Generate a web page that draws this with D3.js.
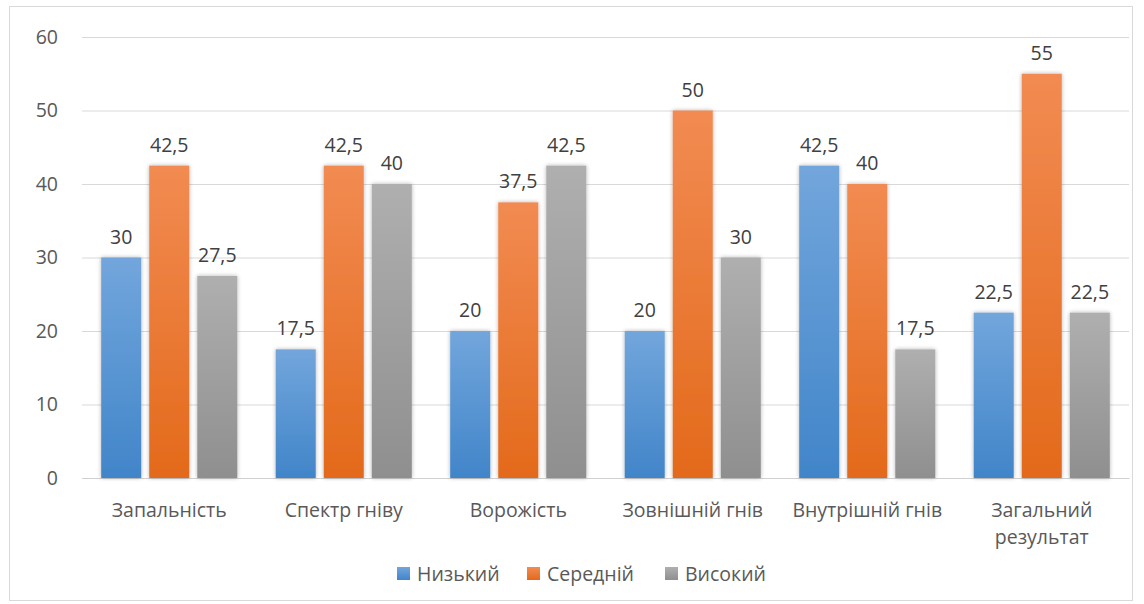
<!DOCTYPE html>
<html>
<head>
<meta charset="utf-8">
<script src="https://cdn.jsdelivr.net/npm/d3@7"></script>
<style>
  body { margin: 0; background: #fff; }
  text { font-family: "Open Sans", "Noto Sans", sans-serif; }
</style>
</head>
<body>
<div id="chart"></div>
<script>
// categories and series
const categories = ['Запальність', 'Спектр гніву', 'Ворожість', 'Зовнішній гнів', 'Внутрішній гнів', 'Загальний результат']
const categoryLines = [['Запальність'], ['Спектр гніву'], ['Ворожість'], ['Зовнішній гнів'], ['Внутрішній гнів'], ['Загальний', 'результат']]
const seriesNames = ['Низький', 'Середній', 'Високий']
const low = [30, 17.5, 20, 20, 42.5, 22.5]
const mid = [42.5, 42.5, 37.5, 50, 40, 55]
const high = [27.5, 40, 42.5, 30, 17.5, 22.5]
const yTicks = [0, 10, 20, 30, 40, 50, 60]

const width = 1144, height = 604
const margin = {top: 37, right: 15, bottom: 126, left: 82}
const innerWidth = width - margin.left - margin.right
const innerHeight = height - margin.top - margin.bottom
const fontSize = '19.5px'

const svg = d3.select('#chart').append('svg')
  .attr('width', width)
  .attr('height', height)

// gradients for bar fills
const colors = {
  'Низький': ['#72a6dc', '#4185c9'],
  'Середній': ['#f28b52', '#e36a1b'],
  'Високий': ['#afafaf', '#8f8f8f']
}
const defs = svg.append('defs')
seriesNames.forEach((s, i) => {
  const grad = defs.append('linearGradient')
    .attr('id', 'grad' + i)
    .attr('x1', 0).attr('y1', 0).attr('x2', 0).attr('y2', 1)
  grad.append('stop').attr('offset', '0%').attr('stop-color', colors[s][0])
  grad.append('stop').attr('offset', '100%').attr('stop-color', colors[s][1])
})
const shadow = defs.append('filter').attr('id', 'shadow')
  .attr('x', '-30%').attr('y', '-10%').attr('width', '160%').attr('height', '120%')
shadow.append('feGaussianBlur').attr('in', 'SourceAlpha').attr('stdDeviation', 2)
shadow.append('feComponentTransfer').append('feFuncA').attr('type', 'linear').attr('slope', 0.3)
const merge = shadow.append('feMerge')
merge.append('feMergeNode')
merge.append('feMergeNode').attr('in', 'SourceGraphic')

// chart border
svg.append('rect')
  .attr('x', 9.5).attr('y', 6.5)
  .attr('width', 1123).attr('height', 594)
  .attr('fill', 'none')
  .attr('stroke', '#d9d9d9')

const g = svg.append('g')
  .attr('transform', `translate(${margin.left}, ${margin.top})`)

// scales
const yScale = d3.scaleLinear().domain([0, 60]).range([innerHeight, 0])
const x0 = d3.scaleBand().domain(categories).range([0, innerWidth])
  .paddingInner(0.22).paddingOuter(0.11)
const x1 = d3.scaleBand().domain(seriesNames).range([0, x0.bandwidth()])
  .paddingInner(1 / 6)

// gridlines
const yAxis = d3.axisLeft(yScale)
  .tickValues(yTicks)
  .tickSize(-innerWidth)
  .tickFormat('')
const yg = g.append('g').call(yAxis)
yg.select('.domain').remove()
yg.selectAll('line').attr('stroke', '#d9d9d9')
yg.selectAll('text').remove()

// y labels
g.selectAll('.ylbl').data(yTicks).join('text')
  .attr('class', 'ylbl')
  .attr('x', -24)
  .attr('y', d => yScale(d))
  .attr('dy', '0.35em')
  .attr('text-anchor', 'end')
  .attr('fill', '#595959')
  .style('font-size', fontSize)
  .text(d => d)

// x baseline + labels
const xAxis = d3.axisBottom(x0).tickSize(0).tickFormat('')
const xg = g.append('g')
  .attr('transform', `translate(0, ${innerHeight})`)
  .call(xAxis)
xg.select('.domain').attr('stroke', '#d0d0d0').attr('stroke-width', 1.2)
xg.selectAll('text').remove()
xg.selectAll('.tick').each(function(d, i) {
  const t = d3.select(this).append('text')
    .attr('fill', '#595959')
    .attr('text-anchor', 'middle')
    .style('font-size', fontSize)
  categoryLines[i].forEach((line, j) => {
    t.append('tspan').attr('x', 0).attr('y', 39 + j * 27).text(line)
  })
})

// bars
const data = categories.map((c, i) => ({
  key: c,
  values: [
    {series: 'Низький', value: low[i]},
    {series: 'Середній', value: mid[i]},
    {series: 'Високий', value: high[i]}
  ]
}))
const fmt = v => String(v).replace('.', ',')

const groups = g.selectAll('.group').data(data).join('g')
  .attr('class', 'group')
  .attr('transform', d => `translate(${x0(d.key)}, 0)`)
groups.selectAll('rect').data(d => d.values).join('rect')
  .attr('x', d => x1(d.series))
  .attr('y', d => yScale(d.value))
  .attr('width', x1.bandwidth())
  .attr('height', d => innerHeight - yScale(d.value))
  .attr('fill', d => `url(#grad${seriesNames.indexOf(d.series)})`)
  .attr('filter', 'url(#shadow)')
groups.selectAll('.lbl').data(d => d.values).join('text')
  .attr('class', 'lbl')
  .attr('x', d => x1(d.series) + x1.bandwidth() / 2)
  .attr('y', d => yScale(d.value) - 14)
  .attr('text-anchor', 'middle')
  .attr('fill', '#404040')
  .style('font-size', fontSize)
  .text(d => fmt(d.value))

// legend
const legendX = [397, 527, 665]
const legend = svg.append('g').attr('transform', 'translate(0, 574)')
seriesNames.forEach((s, i) => {
  const item = legend.append('g').attr('transform', `translate(${legendX[i]}, 0)`)
  item.append('rect')
    .attr('x', 0).attr('y', -7)
    .attr('width', 13).attr('height', 13)
    .attr('fill', `url(#grad${i})`)
  item.append('text')
    .attr('x', 20).attr('y', 0)
    .attr('dy', '0.35em')
    .attr('fill', '#595959')
    .style('font-size', fontSize)
    .text(s)
})
</script>
</body>
</html>
